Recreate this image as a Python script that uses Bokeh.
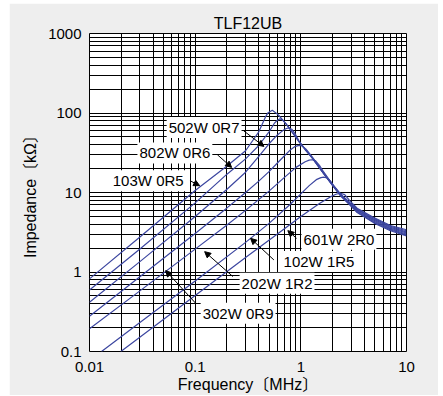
from bokeh.plotting import figure
from bokeh.models import Range1d, FixedTicker, CustomJSTickFormatter, Label, Arrow, NormalHead
from bokeh.embed import file_html
from bokeh.resources import INLINE

# ---- data ----
title_text = "TLF12UB"
x_ticks = [0.01, 0.1, 1, 10]
y_ticks = [0.1, 1, 10, 100, 1000]

freq_103W = [0.01, 0.03, 0.1, 0.2, 0.3, 0.4, 0.464, 0.49, 0.537, 0.577, 0.62, 0.7, 0.77, 0.957, 1.28, 1.65, 2.0, 2.37, 2.9, 3.41, 4.9, 7.05, 10]
z_103W = [0.82, 2.75, 10.6, 21.5, 33.5, 58, 90, 101, 108, 101, 93, 77, 66, 44, 27.4, 17.3, 12.2, 9.1, 7.0, 5.6, 4.15, 3.3, 2.85]

freq_802W = [0.01, 0.03, 0.1, 0.2, 0.3, 0.4, 0.5, 0.56, 0.6, 0.633, 0.67, 0.72, 0.77, 0.957, 1.28, 1.65, 2.0, 2.37, 2.9, 3.41, 4.9, 7.05, 10]
z_802W = [0.595, 1.95, 7.4, 17.0, 26.5, 39, 57.7, 73.9, 81, 84.3, 82, 74, 65.5, 43.8, 27.2, 17.2, 12.3, 9.2, 7.1, 5.7, 4.25, 3.38, 2.93]

freq_502W = [0.01, 0.03, 0.1, 0.2, 0.3, 0.4, 0.5, 0.6, 0.68, 0.73, 0.77, 0.82, 0.88, 0.957, 1.1, 1.28, 1.65, 2.0, 2.37, 2.9, 3.41, 4.9, 7.05, 10]
z_502W = [0.416, 1.35, 5.0, 11.0, 18.0, 28.5, 41, 53, 60.5, 63.8, 64.9, 62.5, 55, 45, 34.5, 27.3, 17.3, 12.4, 9.3, 7.2, 5.85, 4.38, 3.46, 3.01]

freq_302W = [0.01, 0.03, 0.1, 0.2, 0.3, 0.4, 0.5, 0.6, 0.7, 0.8, 0.88, 0.957, 1.03, 1.12, 1.28, 1.65, 2.0, 2.37, 2.9, 3.41, 4.9, 7.05, 10]
z_302W = [0.277, 0.87, 3.05, 6.4, 10.0, 13.9, 18.3, 23.5, 29.0, 34.6, 37.8, 39.2, 38.5, 35, 28, 17.5, 12.5, 9.4, 7.3, 5.95, 4.5, 3.55, 3.1]

freq_202W = [0.01, 0.03, 0.1, 0.2, 0.3, 0.5, 0.7, 0.9, 1.1, 1.2, 1.28, 1.38, 1.5, 1.65, 2.0, 2.37, 2.9, 3.41, 4.9, 7.05, 10]
z_202W = [0.193, 0.579, 1.94, 3.91, 5.96, 10.4, 15.5, 20.7, 24.4, 25.5, 25.8, 25, 22, 18, 12.6, 9.5, 7.4, 6.1, 4.62, 3.65, 3.2]

freq_102W = [0.013, 0.03, 0.1, 0.3, 0.5, 0.8, 1.0, 1.2, 1.4, 1.55, 1.65, 1.78, 1.9, 2.05, 2.37, 2.9, 3.41, 4.9, 7.05, 10]
z_102W = [0.1, 0.231, 0.77, 2.36, 4.09, 7.16, 9.6, 12.2, 14.5, 15.4, 15.6, 15.2, 14.0, 12.2, 9.6, 7.5, 6.2, 4.75, 3.75, 3.3]

freq_601W = [0.0198, 0.05, 0.1, 0.3, 0.6, 1.0, 1.5, 1.9, 2.15, 2.37, 2.6, 2.9, 3.41, 4.9, 7.05, 10]
z_601W = [0.1, 0.252, 0.505, 1.52, 3.0, 5.0, 7.25, 8.8, 9.5, 9.8, 9.4, 7.9, 6.35, 4.85, 3.85, 3.4]

part_names = ["502W 0R7", "802W 0R6", "103W 0R5", "601W 2R0", "102W 1R5", "202W 1R2", "302W 0R9"]

# ---- annotation placement (data coordinates) ----
label_pos = [(0.05375, 65.8), (0.02843, 31.4), (0.0159, 14.08), (1.0154, 2.576),
             (0.657, 1.351), (0.2634, 0.721), (0.1127, 0.3027)]
arrow_pos = [((0.2874, 59.8), (0.4471, 38.0)),
             ((0.1621, 29.9), (0.2213, 20.7)),
             ((0.0893, 14.08), (0.1103, 12.18)),
             ((0.911, 2.651), (0.7534, 3.314)),
             ((0.5556, 1.419), (0.3346, 2.651)),
             ((0.2277, 0.8752), (0.1230, 1.804)),
             ((0.1011, 0.4044), (0.0526, 1.041))]

FONT = "Liberation Sans, Noto Sans CJK JP"
BLUE = "#3c46a0"
PANEL = "#eeeeee"

p = figure(width=429, height=392, x_axis_type="log", y_axis_type="log",
           x_range=Range1d(0.01, 10), y_range=Range1d(0.1, 1000),
           output_backend="svg", toolbar_location=None,
           min_border_left=80, min_border_right=32, min_border_top=30, min_border_bottom=44,
           background_fill_color="white", border_fill_color=PANEL,
           outline_line_color="black", outline_line_width=1)
p.margin = (3, 5, 1, 9)

p.title.text = title_text
p.title.align = "center"
p.title.text_font = FONT
p.title.text_font_size = "16px"
p.title.text_font_style = "normal"
p.title.text_color = "black"
p.title.standoff = 3

x_minor = [m * 10.0 ** e for e in (-2, -1, 0) for m in range(2, 10)]
y_minor = [m * 10.0 ** e for e in (-1, 0, 1, 2) for m in range(2, 10)]
p.xaxis.ticker = FixedTicker(ticks=x_ticks, minor_ticks=x_minor)
p.yaxis.ticker = FixedTicker(ticks=y_ticks, minor_ticks=y_minor)
fmt = "return String(tick);"
p.xaxis.formatter = CustomJSTickFormatter(code=fmt)
p.yaxis.formatter = CustomJSTickFormatter(code=fmt)

for ax in (p.xaxis, p.yaxis):
    ax.axis_line_color = None
    ax.major_tick_line_color = None
    ax.minor_tick_line_color = None
    ax.major_tick_out = 0
    ax.major_tick_in = 0
    ax.major_label_text_font = FONT
    ax.major_label_text_font_size = "15px"
    ax.major_label_text_color = "black"
    ax.axis_label_text_font = FONT
    ax.axis_label_text_font_size = "16px"
    ax.axis_label_text_font_style = "normal"
    ax.axis_label_text_color = "black"

p.xaxis.axis_label = "Frequency〔MHz〕"
p.yaxis.axis_label = "Impedance〔kΩ〕"
p.xaxis.major_label_standoff = 6
p.yaxis.major_label_standoff = 4
p.xaxis.axis_label_standoff = 1
p.yaxis.axis_label_standoff = 6

for g in (p.xgrid, p.ygrid):
    g.grid_line_color = "black"
    g.grid_line_width = 1
    g.grid_line_alpha = 1
    g.minor_grid_line_color = "black"
    g.minor_grid_line_width = 1

curves = [(freq_103W, z_103W), (freq_802W, z_802W), (freq_502W, z_502W), (freq_302W, z_302W),
          (freq_202W, z_202W), (freq_102W, z_102W), (freq_601W, z_601W)]
for f, z in curves:
    p.line(f, z, line_color=BLUE, line_width=1.2)

for name, (lx, ly) in zip(part_names, label_pos):
    p.add_layout(Label(x=lx, y=ly, text=name, text_font=FONT, text_font_size="15px",
                       text_color="black", text_align="left", text_baseline="middle",
                       background_fill_color="white", padding=2))

for (s, e) in arrow_pos:
    p.add_layout(Arrow(x_start=s[0], y_start=s[1], x_end=e[0], y_end=e[1],
                       line_color="black", line_width=1,
                       end=NormalHead(size=6, fill_color="black", line_color="black", line_width=1)))

open("out.html", "w").write(file_html(p, INLINE))
